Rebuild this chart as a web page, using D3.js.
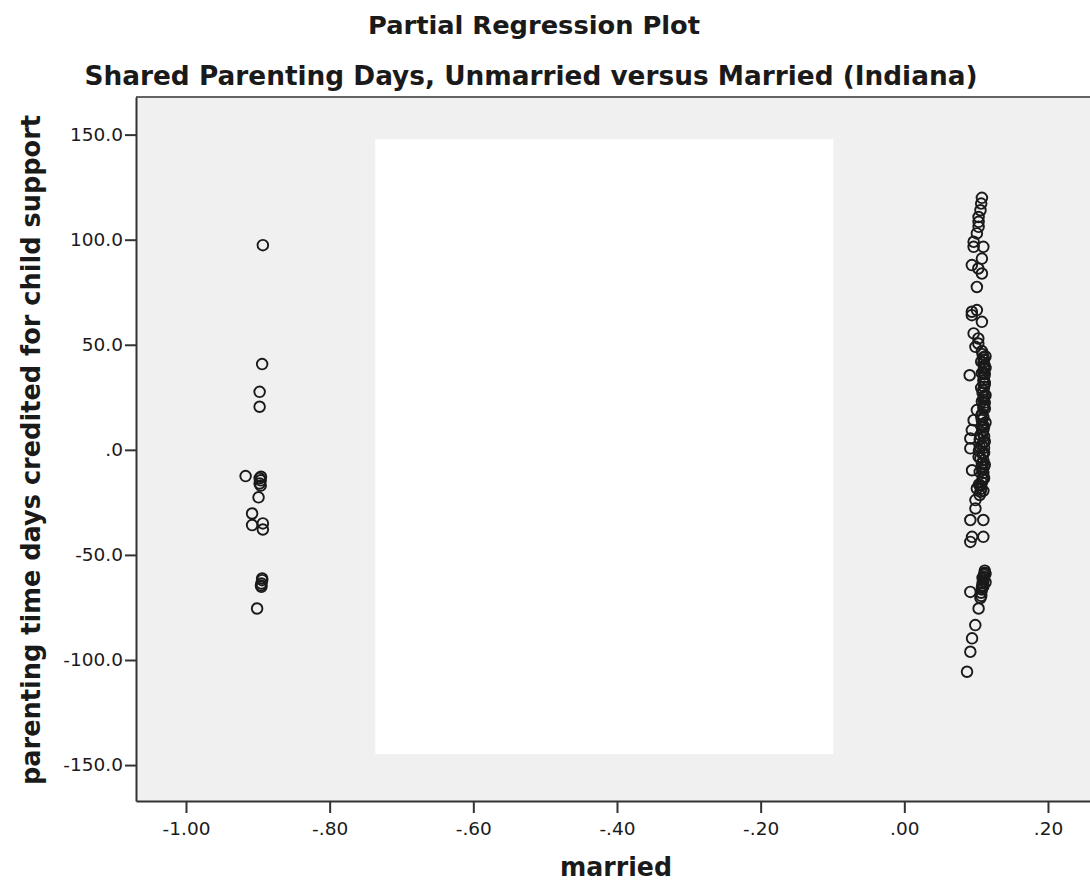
<!DOCTYPE html>
<html>
<head>
<script src="https://d3js.org/d3.v7.min.js" charset="utf-8"></script>
<style>
    body { margin: 0; background: #fff; }
    text { font-family: "DejaVu Sans", Verdana, sans-serif; fill: #1a1a1a; }
</style>
</head>
<body>
<script>
    // tick values
    var xTicks = [-1.0, -0.8, -0.6, -0.4, -0.2, 0.0, 0.2];
    var yTicks = [150, 100, 50, 0, -50, -100, -150];

    // residuals, unmarried group (left)
    var leftX = [-0.893, -0.894, -0.8975, -0.8975, -0.917, -0.8956, -0.8975, -0.896, -0.8975,
                 -0.896, -0.899, -0.908, -0.908, -0.893, -0.893, -0.894, -0.894, -0.895,
                 -0.8956, -0.895, -0.901];
    var leftY = [97.4, 40.8, 27.6, 20.5, -12.5, -12.8, -13.5, -14.5, -16,
                 -17, -22.6, -30.3, -35.8, -35, -37.9, -61.2, -62, -63.6,
                 -64.5, -65.2, -75.5];

    // residuals, married group (right)
    var rightX = [0.108, 0.107, 0.106, 0.1034, 0.1034, 0.1034, 0.101, 0.0965, 0.0965, 0.110,
                  0.108, 0.094, 0.103, 0.108, 0.101, 0.101, 0.094, 0.094, 0.108, 0.0965,
                  0.103, 0.099, 0.103,
                  0.108, 0.109, 0.110, 0.111, 0.110, 0.112, 0.111, 0.110, 0.112, 0.111,
                  0.110, 0.112, 0.111, 0.110, 0.109, 0.111, 0.110, 0.112, 0.111, 0.110,
                  0.091, 0.101, 0.108, 0.110, 0.109, 0.111, 0.0965, 0.108, 0.094, 0.110,
                  0.109, 0.111, 0.105, 0.110, 0.108, 0.111, 0.104, 0.109, 0.0919, 0.0919,
                  0.1034, 0.110, 0.108, 0.111, 0.0943, 0.109, 0.108, 0.110, 0.110, 0.109,
                  0.108, 0.106, 0.107, 0.101, 0.106, 0.105, 0.099, 0.099, 0.0919, 0.110,
                  0.0943, 0.110, 0.0919,
                  0.112, 0.112, 0.111, 0.111, 0.110, 0.110, 0.109, 0.109, 0.108, 0.108,
                  0.107, 0.107, 0.106, 0.0919, 0.1034, 0.0988, 0.0943, 0.0919, 0.0873,
                  0.113, 0.107, 0.113, 0.108, 0.112, 0.107, 0.113, 0.108, 0.112, 0.107,
                  0.113, 0.108, 0.106, 0.112, 0.105, 0.111, 0.106, 0.112, 0.105, 0.111,
                  0.104, 0.110, 0.113, 0.109, 0.113, 0.110];
    var rightY = [119.9, 117.2, 114, 110.8, 108.5, 106.1, 103, 99, 96.6, 96.6,
                  91, 87.9, 86.3, 83.9, 77.5, 66.5, 65.7, 64.1, 60.9, 55.4,
                  53, 49, 50.6,
                  47, 45.5, 44, 43, 41.5, 40, 38.5, 37, 36, 34.5,
                  33, 31.5, 30, 28.5, 27, 25.5, 24, 22.5, 21, 20,
                  35.5, 18.9, 17, 15.5, 12, 11, 14.1, 14.1, 9.4, 9.4,
                  8, 6.5, 5, 3.5, 2, 1, -0.5, -2, 5.4, 0.7,
                  -3.3, -5, -6.5, -8, -9.7, -9.5, -8.1, -11, -12.8, -14,
                  -15.5, -17, -18.5, -18.4, -20, -21.5, -23.9, -27.9, -33.4, -33.4,
                  -41.4, -41.4, -43.8,
                  -57.5, -58.5, -59.5, -60.5, -61.5, -62.5, -63.5, -64.5, -65.5, -66.5,
                  -68, -69.5, -70.5, -67.6, -75.5, -83.4, -89.7, -96.1, -105.6,
                  44.5, 42, 39, 36.5, 32, 29.5, 26, 23, 19.5, 16,
                  13, 10.5, 7, 4, 1.5, -1.5, -4, -7, -10.5, -13.5,
                  -16.5, -19.5, -59, -61, -63, -65];

    var W = 1090, H = 886;
    var plotLeft = 136, plotTop = 97, plotRight = 1102, plotBottom = 801;

    var svg = d3.select("body").append("svg")
        .attr("width", W)
        .attr("height", H);

    var x = d3.scaleLinear().domain([-1.0696, 0.2752]).range([plotLeft, plotRight]);
    var y = d3.scaleLinear().domain([-167.1, 167.9]).range([plotBottom, plotTop]);

    // plot background
    svg.append("rect")
        .attr("x", plotLeft).attr("y", plotTop)
        .attr("width", plotRight - plotLeft).attr("height", plotBottom - plotTop)
        .attr("fill", "#f0f0f0");

    // blank patch over the middle of the plot
    svg.append("rect")
        .attr("x", x(-0.7365)).attr("y", y(147.8))
        .attr("width", x(-0.0988) - x(-0.7365))
        .attr("height", y(-144.8) - y(147.8))
        .attr("fill", "#fff");

    // top border
    svg.append("line")
        .attr("x1", plotLeft).attr("x2", plotRight)
        .attr("y1", plotTop).attr("y2", plotTop)
        .attr("stroke", "#333").attr("stroke-width", 1.5);

    function fmt(dec) {
        var f = d3.format("." + dec + "f");
        return function(v) {
            return f(v).replace(/\u2212/g, "-").replace(/^(-?)0\./, "$1.");
        };
    }

    var xAxis = svg.append("g")
        .attr("transform", "translate(0," + plotBottom + ")")
        .call(d3.axisBottom(x).tickValues(xTicks).tickSize(12).tickSizeOuter(0).tickFormat(fmt(2)));
    var yAxis = svg.append("g")
        .attr("transform", "translate(" + plotLeft + ",0)")
        .call(d3.axisLeft(y).tickValues(yTicks).tickSize(11).tickSizeOuter(0).tickFormat(fmt(1)));

    [xAxis, yAxis].forEach(function(g) {
        g.select(".domain").attr("stroke", "#333").attr("stroke-width", 2);
        g.selectAll(".tick line").attr("stroke", "#333").attr("stroke-width", 2);
        g.selectAll(".tick text")
            .style("font-family", "'DejaVu Sans', Verdana, sans-serif")
            .style("font-size", "18.5px")
            .attr("fill", "#1a1a1a");
    });
    xAxis.selectAll(".tick text").attr("dy", "1.05em");
    yAxis.selectAll(".tick text").attr("x", -13);

    // points
    var pts = leftX.map(function(v, i) { return [v, leftY[i]]; })
        .concat(rightX.map(function(v, i) { return [v, rightY[i]]; }));

    svg.append("g").selectAll("circle")
        .data(pts)
        .enter()
        .append("circle")
        .attr("cx", function(d) { return x(d[0]); })
        .attr("cy", function(d) { return y(d[1]); })
        .attr("r", 5.3)
        .attr("fill", "none")
        .attr("stroke", "#1a1a1a")
        .attr("stroke-width", 1.9);

    // titles
    svg.append("text")
        .attr("x", 534).attr("y", 34)
        .attr("text-anchor", "middle")
        .attr("textLength", 332).attr("lengthAdjust", "spacingAndGlyphs")
        .style("font-size", "24px").style("font-weight", "bold")
        .text("Partial Regression Plot");
    svg.append("text")
        .attr("x", 531).attr("y", 85)
        .attr("text-anchor", "middle")
        .attr("textLength", 893).attr("lengthAdjust", "spacingAndGlyphs")
        .style("font-size", "26px").style("font-weight", "bold")
        .text("Shared Parenting Days, Unmarried versus Married (Indiana)");

    // axis titles
    svg.append("text")
        .attr("x", 616).attr("y", 876)
        .attr("text-anchor", "middle")
        .attr("textLength", 112).attr("lengthAdjust", "spacingAndGlyphs")
        .style("font-size", "27px").style("font-weight", "bold")
        .text("married");
    svg.append("text")
        .attr("transform", "translate(40,450) rotate(-90)")
        .attr("text-anchor", "middle")
        .attr("textLength", 670).attr("lengthAdjust", "spacingAndGlyphs")
        .style("font-size", "27px").style("font-weight", "bold")
        .text("parenting time days credited for child support");
</script>
</body>
</html>
